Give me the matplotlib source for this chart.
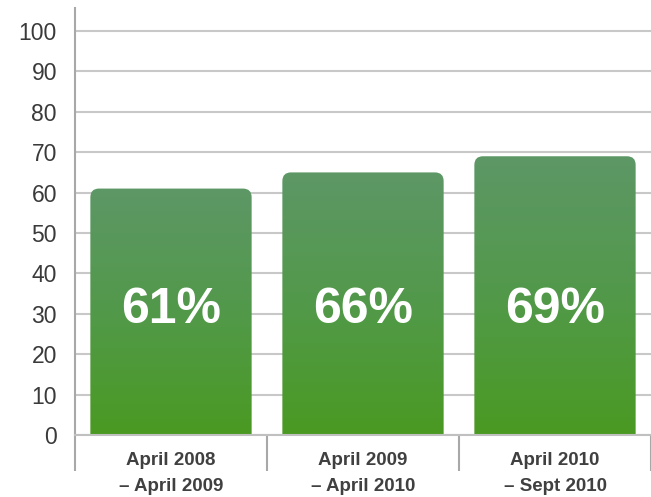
import numpy as np
import matplotlib
matplotlib.use("Agg")
import matplotlib.pyplot as plt
from matplotlib.colors import LinearSegmentedColormap
from matplotlib.patches import FancyBboxPatch

periods = ["April 2008\n\u2013 April 2009", "April 2009\n\u2013 April 2010", "April 2010\n\u2013 Sept 2010"]
heights = [61, 65, 69]
pct_labels = ["61%", "66%", "69%"]
yticks = list(range(0, 101, 10))

plt.rcParams['font.family'] = ['Liberation Sans', 'DejaVu Sans']

fig = plt.figure(figsize=(6.51, 4.97), dpi=100)
ax = fig.add_axes([75 / 651, 62 / 497, 576 / 651, 427 / 497])

x = np.arange(len(heights))
bars = ax.bar(x, heights, width=0.84, color='none', zorder=2)

ax.set_xlim(-0.5, 2.5)
ax.set_ylim(0, 105.7)

green = LinearSegmentedColormap.from_list("g", ["#4a9a22", "#52994a", "#5d9766"])
grad = np.linspace(0, 1, 256).reshape(-1, 1)

# rounding in x units vs y units (192 px per x unit, ~4.03 px per y unit)
rx = 0.045
aspect = (192 / 4.03)
for b, lab in zip(bars, pct_labels):
    x0, w, h = b.get_x(), b.get_width(), b.get_height()
    patch = FancyBboxPatch((x0, -10), w, h + 10,
                           boxstyle=f"round,pad=0,rounding_size={rx}",
                           mutation_aspect=aspect, facecolor='none',
                           edgecolor='none', transform=ax.transData)
    ax.add_patch(patch)
    im = ax.imshow(grad, cmap=green, origin='lower', aspect='auto',
                   extent=[x0, x0 + w, 0, h], zorder=2, interpolation='bicubic')
    im.set_clip_path(patch)
    ax.text(x0 + w / 2, 31, lab, color='white', fontsize=36, fontweight='bold',
            ha='center', va='center', zorder=3)

ax.set_xlim(-0.5, 2.5)
ax.set_ylim(0, 105.7)

ax.set_yticks(yticks)
ax.yaxis.grid(True, color='#c8c8c8', linewidth=1.5, zorder=0)
ax.set_axisbelow(True)
ax.tick_params(axis='y', length=0, pad=13, labelsize=16.5, labelcolor='#3a3a3a')

ax.set_xticks(x)
ax.set_xticklabels(periods, fontsize=13.5, fontweight='bold', color='#404040', linespacing=1.75)
ax.set_xticks([-0.5, 0.5, 1.5, 2.5], minor=True)
ax.tick_params(axis='x', which='major', length=0, pad=12)
ax.tick_params(axis='x', which='minor', length=26, width=1.5, color='#a8a8a8')

for s in ['top', 'right']:
    ax.spines[s].set_visible(False)
ax.spines['left'].set_color('#a8a8a8')
ax.spines['left'].set_linewidth(1.5)
ax.spines['bottom'].set_color('#c0c0c0')
ax.spines['bottom'].set_linewidth(1.5)

fig.savefig("out.png", dpi=100)
